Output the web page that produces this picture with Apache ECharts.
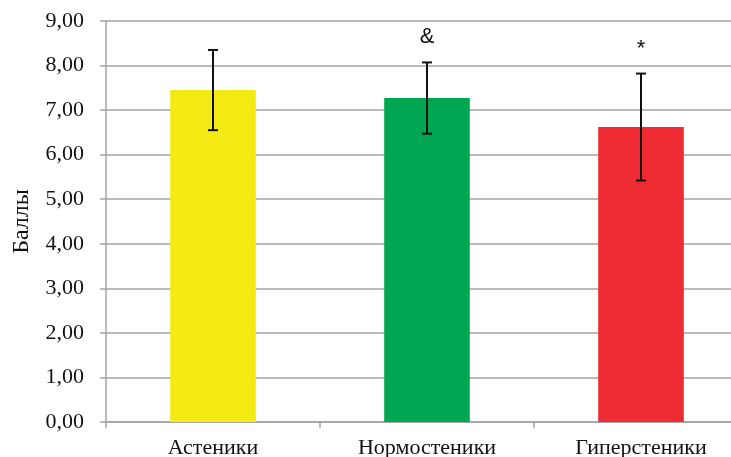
<!DOCTYPE html>
<html>
<head>
<meta charset="utf-8">
<script src="https://cdn.jsdelivr.net/npm/echarts@6/dist/echarts.min.js"></script>
<style>
  html, body { margin: 0; padding: 0; background: #fff; }
  #chart { width: 731px; height: 457px; }
</style>
</head>
<body>
<div id="chart"></div>
<script>
// Body-type groups and mean scores with spread
const categories = ['Астеники', 'Нормостеники', 'Гиперстеники'];
const means = [7.45, 7.27, 6.62];
const errLow = [6.55, 6.47, 5.42];
const errHigh = [8.35, 8.07, 7.82];
const marks = ['', '&', '*'];
const barColors = ['#F2EA12', '#00A651', '#EE2B33'];
const yTicks = [0, 1, 2, 3, 4, 5, 6, 7, 8, 9];

const gridGray = '#a3a3a3';
const serif = '"Liberation Serif", "DejaVu Serif", serif';

const chart = echarts.init(document.getElementById('chart'), null, { renderer: 'canvas' });

chart.setOption({
  animation: false,
  backgroundColor: '#ffffff',
  grid: { left: 106, top: 21, width: 642, height: 401, containLabel: false, outerBoundsMode: 'none' },
  xAxis: {
    type: 'category',
    data: categories,
    boundaryGap: true,
    axisLine: { lineStyle: { color: gridGray, width: 1.5 } },
    axisTick: { show: true, length: 6, lineStyle: { color: gridGray, width: 1.5 } },
    axisLabel: { color: '#111', fontFamily: serif, fontSize: 22, margin: 15 }
  },
  yAxis: {
    type: 'value',
    min: yTicks[0],
    max: yTicks[yTicks.length - 1],
    interval: 1,
    name: 'Баллы',
    nameLocation: 'middle',
    nameGap: 72,
    nameRotate: 90,
    nameTextStyle: { color: '#111', fontFamily: serif, fontSize: 24 },
    axisLine: { show: true, lineStyle: { color: gridGray, width: 1.5 } },
    axisTick: { show: true, length: 6, lineStyle: { color: gridGray, width: 1.5 } },
    splitLine: { show: true, lineStyle: { color: gridGray, width: 1.5 } },
    axisLabel: {
      color: '#111', fontFamily: serif, fontSize: 22, margin: 22,
      formatter: v => v.toFixed(2).replace('.', ',')
    }
  },
  series: [
    {
      type: 'bar',
      barWidth: '40%',
      data: means.map((v, i) => ({ value: v, itemStyle: { color: barColors[i] } })),
      z: 2
    },
    {
      type: 'custom',
      z: 3,
      data: categories.map((c, i) => [i, errLow[i], errHigh[i]]),
      renderItem: function (params, api) {
        const i = api.value(0);
        const lo = api.coord([i, api.value(1)]);
        const hi = api.coord([i, api.value(2)]);
        const cap = 5;
        const style = { stroke: '#111', lineWidth: 2 };
        const children = [
          { type: 'line', shape: { x1: hi[0], y1: hi[1], x2: lo[0], y2: lo[1] }, style },
          { type: 'line', shape: { x1: hi[0] - cap, y1: hi[1], x2: hi[0] + cap, y2: hi[1] }, style },
          { type: 'line', shape: { x1: lo[0] - cap, y1: lo[1], x2: lo[0] + cap, y2: lo[1] }, style }
        ];
        if (marks[i]) {
          children.push({
            type: 'text',
            style: {
              text: marks[i],
              x: hi[0],
              y: hi[1] - 36,
              align: 'center',
              verticalAlign: 'top',
              fill: '#111',
              font: '22px "Liberation Sans", Arial, sans-serif'
            }
          });
        }
        return { type: 'group', children };
      }
    }
  ]
});
</script>
</body>
</html>
